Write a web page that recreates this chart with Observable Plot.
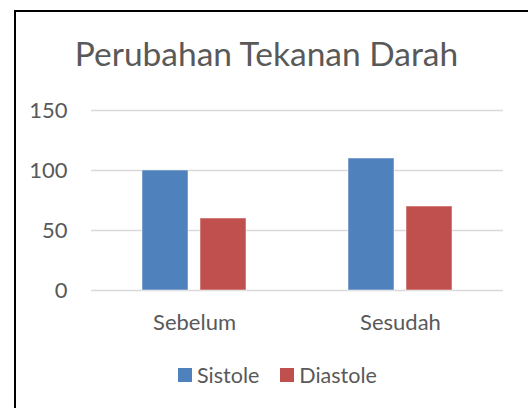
<!DOCTYPE html>
<html>
<head>
<meta charset="utf-8">
<script src="https://cdn.jsdelivr.net/npm/d3@7"></script>
<script src="https://cdn.jsdelivr.net/npm/@observablehq/plot@0.6"></script>
<style>
  html, body { margin: 0; padding: 0; background: #fff; overflow: hidden; width: 528px; height: 408px; }
  body { position: relative; font-family: Lato, "Open Sans", sans-serif; color: #595959; }
  #frame { position: absolute; left: 14px; top: 10px; width: 600px; height: 500px; border: 2px solid #000; box-sizing: border-box; }
  #title { position: absolute; left: 0; top: 33px; width: 533px; text-align: center; font-size: 33.5px; line-height: 40px; white-space: nowrap; }
  #chart { position: absolute; left: 0; top: 80px; }
  #legend { position: absolute; left: 178px; top: 362px; display: flex; align-items: center; font-size: 21.5px; line-height: 26px; white-space: nowrap; }
  .sw { display: inline-block; width: 14px; height: 14px; margin-right: 5px; }
  .item { display: flex; align-items: center; margin-right: 21px; }
</style>
</head>
<body>
<div id="frame"></div>
<div id="title">Perubahan Tekanan Darah</div>
<div id="chart"></div>
<div id="legend"></div>
<script>
const periods = ["Sebelum", "Sesudah"];
const seriesNames = ["Sistole", "Diastole"];
const sistole = [100, 110];
const diastole = [60, 70];
const yTicks = [0, 50, 100, 150];
const colors = ["#4f81bd", "#c0504d"];

const data = [];
periods.forEach((p, i) => {
  data.push({period: p, series: "Sistole", value: sistole[i]});
  data.push({period: p, series: "Diastole", value: diastole[i]});
});

const chart = Plot.plot({
  width: 528,
  height: 260,
  marginLeft: 91,
  marginRight: 25,
  marginTop: 30,
  marginBottom: 50,
  style: {fontFamily: "Lato, 'Open Sans', sans-serif", color: "#595959", background: "transparent", overflow: "visible"},
  fx: {domain: periods, padding: 0, label: null},
  x: {domain: seriesNames, paddingInner: 0.215, paddingOuter: 0.865, axis: null},
  y: {domain: [0, 150], axis: null},
  color: {domain: seriesNames, range: colors},
  marks: [
    Plot.ruleY(yTicks, {stroke: "#d9d9d9", strokeWidth: 1.5}),
    Plot.axisFx({anchor: "bottom", tickSize: 0, tickPadding: 24, fontSize: 22, label: null, fill: "#595959"}),
    Plot.axisY(yTicks, {anchor: "left", tickSize: 0, tickPadding: 24, fontSize: 22, label: null, fill: "#595959", facetAnchor: "left"}),
    Plot.barY(data, {fx: "period", x: "series", y: "value", fill: "series", stroke: "#ffffff", strokeOpacity: 0.5, strokeWidth: 1})
  ]
});
document.getElementById("chart").appendChild(chart);

const legend = document.getElementById("legend");
seriesNames.forEach((s, i) => {
  const item = document.createElement("div");
  item.className = "item";
  const sw = document.createElement("span");
  sw.className = "sw";
  sw.style.background = colors[i];
  item.appendChild(sw);
  const t = document.createElement("span");
  t.textContent = s;
  item.appendChild(t);
  legend.appendChild(item);
});
</script>
</body>
</html>
